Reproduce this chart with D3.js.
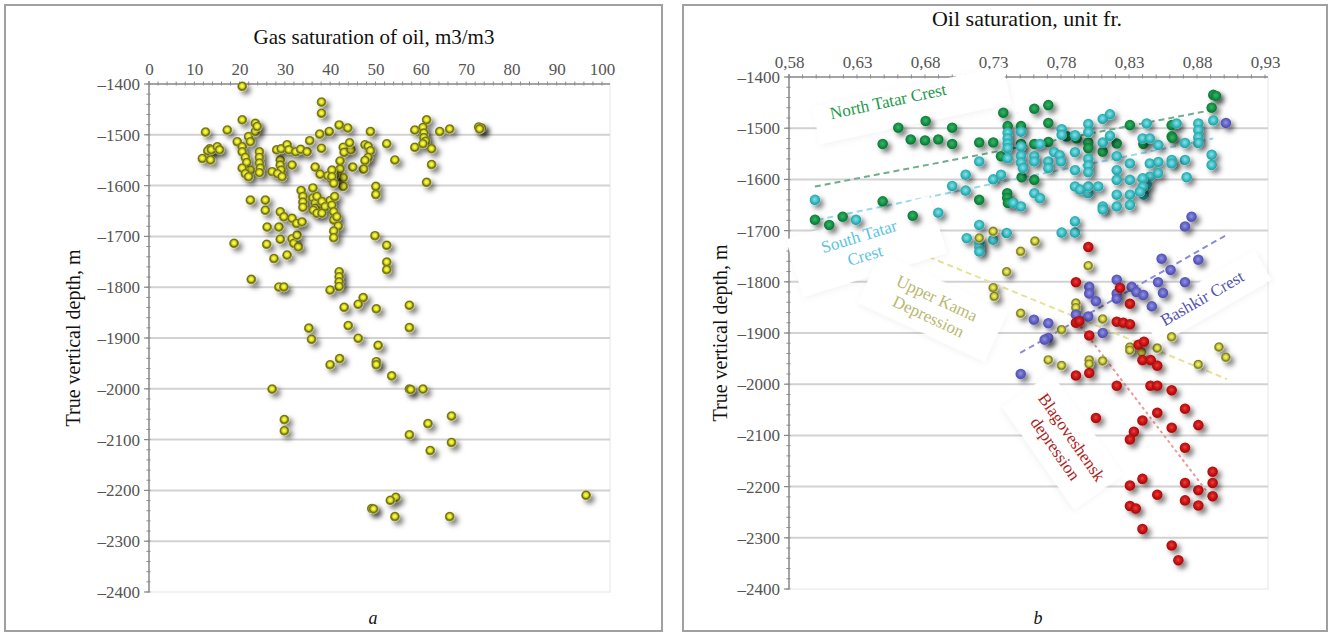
<!DOCTYPE html>
<html>
<head>
<meta charset="utf-8">
<script src="https://cdn.jsdelivr.net/npm/d3@7"></script>
<style>
  body { margin: 0; background: #fff; }
  svg text { font-family: "Liberation Serif", "Times New Roman", serif; }
</style>
</head>
<body>
<svg id="fig" width="1333" height="635"></svg>
<script>
// ---------- tick values ----------
const gasTicks = d3.range(0, 101, 10);
const gasMinorTicks = d3.range(0, 101, 2);
const depthTicks = d3.range(-1400, -2401, -100);
const depthMinorTicks = d3.range(-1400, -2401, -20);
const oilTicks = [0.58, 0.63, 0.68, 0.73, 0.78, 0.83, 0.88, 0.93];
const oilMinorTicks = d3.range(58, 94, 1).map(v => v / 100);

// ---------- panel a: gas saturation (m3/m3) vs depth (m) ----------
const gasSaturation = [
  [20.6,-1405],[20.6,-1471],[12.5,-1495],[17.3,-1491],[13.4,-1528],[13.0,-1532],[13.8,-1530],[15.1,-1524],
  [15.6,-1530],[11.8,-1547],[13.6,-1550],[19.5,-1514],[20.6,-1524],[22,-1504],[22.4,-1514],[23.5,-1478],
  [23.5,-1494],[23.9,-1484],[20.6,-1534],[21.3,-1545],[21.6,-1555],[22.4,-1570],[20.6,-1566],[21.3,-1577],
  [22,-1583],[24.4,-1534],[24.4,-1545],[24.4,-1556],[24.6,-1566],[24.4,-1575],[22.4,-1629],[25.7,-1629],
  [25.7,-1649],[26.1,-1682],[26,-1716],[28.7,-1682],[27.6,-1744],[30.5,-1737],[29,-1706],[31.6,-1705],
  [32,-1714],[33,-1721],[32.7,-1698],[18.8,-1714],[22.6,-1785],[28.7,-1800],[29.8,-1800],[29,-1652],
  [29.8,-1662],[31.6,-1665],[32.6,-1675],[33.8,-1672],[27.2,-1573],[29,-1550],[29,-1560],[29.2,-1570],
  [28.4,-1577],[29.4,-1583],[28.2,-1530],[29.2,-1528],[30.5,-1520],[30.9,-1530],[31.6,-1560],[32.4,-1534],
  [33.5,-1529],[34.9,-1534],[33.6,-1610],[34,-1622],[34,-1633],[34,-1643],
  [38.1,-1436],[38.1,-1458],[42,-1481],[43.9,-1487],[39.8,-1494],[37.7,-1499],[48.9,-1494],[35.5,-1512],
  [38.1,-1527],[42.9,-1525],[43.1,-1535],[44.6,-1530],[44.3,-1516],[47.7,-1520],[48.4,-1523],[48.9,-1532],
  [48.4,-1545],[47.7,-1551],[47.4,-1568],[52.5,-1518],[54.3,-1550],[45,-1564],[42.2,-1552],[42.2,-1568],
  [42.9,-1585],[42.9,-1602],[36.7,-1564],[37.8,-1578],[39.5,-1581],[40.3,-1587],[41,-1580],[50.1,-1602],
  [50.1,-1618],[61.3,-1471],[58.7,-1491],[60.5,-1486],[60.7,-1497],[60.7,-1506],[61.1,-1513],[64.2,-1494],
  [66.4,-1489],[58.7,-1525],[60.5,-1518],[62.4,-1528],[62.4,-1559],[61.3,-1594],[72.8,-1485],[73.4,-1487],
  [73.0,-1489],[36.2,-1605],[36.2,-1625],[36.7,-1635],[36.7,-1645],[37.1,-1622],[38.2,-1632],[38.9,-1642],
  [36.3,-1649],[37.1,-1655],[38.2,-1655],[40,-1630],[40.4,-1570],[40.4,-1583],[40.8,-1596],[41,-1622],
  [40.4,-1639],[40.8,-1652],[40.8,-1668],[41.5,-1662],[41.8,-1680],[40.8,-1690],[40.8,-1703],[49.9,-1699],
  [52.5,-1718],[52.5,-1751],[52.5,-1766],[42,-1770],[42,-1780],[42,-1790],[42,-1799],[40,-1806],[47.3,-1821],
  [43.1,-1840],[46.2,-1834],[50.2,-1843],[57.5,-1836],[57.5,-1880],[35.3,-1881],[35.9,-1903],[44,-1876],
  [46.2,-1901],[50.6,-1915],[42.1,-1941],[40,-1953],[50.2,-1947],[50.2,-1953],[53.6,-1975],[57.5,-2001],
  [57.8,-2002],[60.5,-2001],[27.2,-2001],[29.9,-2061],[29.9,-2083],[66.8,-2054],[61.6,-2069],[57.5,-2091],
  [66.8,-2106],[62.1,-2122],[96.5,-2210],[54.5,-2214],[53.3,-2220],[49.2,-2236],[49.6,-2237],[54.3,-2252],
  [66.4,-2252]
];

// ---------- panel b: oil saturation (unit fr.) vs depth (m), by tectonic element ----------
const northTatar = [
  [0.6604,-1499],[0.6489,-1531],[0.6695,-1522],[0.6805,-1486],[0.680,-1524],[0.6898,-1522],[0.700,-1499],
  [0.700,-1531],[0.7199,-1528],[0.7302,-1528],[0.7376,-1470],[0.7408,-1496],[0.7506,-1496],[0.7359,-1555],
  [0.7604,-1462],[0.7707,-1455],[0.7707,-1490],[0.7506,-1531],[0.7604,-1531],[0.7707,-1527],[0.7511,-1596],
  [0.7604,-1601],[0.7842,-1516],[0.7915,-1520],[0.8001,-1528],[0.8001,-1539],[0.8107,-1546],[0.8210,-1530],
  [0.8307,-1494],[0.7199,-1640],[0.7405,-1627],[0.7405,-1636],[0.7410,-1646],[0.6489,-1643],[0.5991,-1679],
  [0.6096,-1689],[0.6195,-1673],[0.671,-1671],[0.892,-1435],[0.894,-1437],[0.8908,-1460],[0.8614,-1494],
  [0.8614,-1516],[0.8620,-1519],[0.8406,-1531]
];
const southTatar = [
  [0.5991,-1640],[0.6293,-1679],[0.6898,-1665],[0.700,-1613],[0.7099,-1591],[0.7099,-1622],[0.7199,-1565],
  [0.7302,-1600],[0.7359,-1591],[0.7199,-1689],[0.7408,-1509],[0.7408,-1520],[0.7408,-1530],[0.7408,-1539],
  [0.7408,-1559],[0.745,-1646],[0.7506,-1507],[0.7506,-1536],[0.7506,-1554],[0.7506,-1567],[0.752,-1578],
  [0.7506,-1653],[0.7604,-1555],[0.7604,-1565],[0.7604,-1627],[0.7646,-1637],[0.7707,-1565],[0.7707,-1578],
  [0.7646,-1531],[0.7750,-1547],[0.7790,-1553],[0.7800,-1565],[0.7805,-1502],[0.7805,-1513],[0.7903,-1514],
  [0.7903,-1547],[0.7903,-1582],[0.7903,-1614],[0.7940,-1620],[0.8001,-1627],[0.8001,-1614],[0.8001,-1492],
  [0.8001,-1508],[0.8001,-1560],[0.8001,-1573],[0.8001,-1586],[0.8074,-1614],[0.8107,-1482],[0.8160,-1473],
  [0.8107,-1528],[0.8160,-1515],[0.8107,-1653],[0.8107,-1659],[0.8210,-1555],[0.8210,-1582],[0.8210,-1601],
  [0.8210,-1630],[0.8210,-1653],[0.8307,-1569],[0.8307,-1601],[0.8307,-1630],[0.8307,-1650],[0.8400,-1520],
  [0.8410,-1630],[0.8430,-1611],[0.8430,-1491],[0.8453,-1520],[0.8453,-1569],[0.8453,-1595],[0.881,-1491],
  [0.881,-1504],[0.881,-1518],[0.881,-1529],[0.8712,-1529],[0.865,-1491],[0.892,-1485],[0.8908,-1552],
  [0.8908,-1572],[0.8712,-1562],[0.8516,-1533],[0.8516,-1566],[0.8614,-1562],[0.8614,-1569],[0.8724,-1596],
  [0.8514,-1588],[0.840,-1598],[0.840,-1615],[0.838,-1624],[0.7107,-1715],[0.7200,-1723],[0.7200,-1732],
  [0.7200,-1741],[0.7302,-1718],[0.7401,-1705],[0.7805,-1704],[0.7903,-1704],[0.7903,-1682]
];
const upperKama = [
  [0.7302,-1702],[0.72,-1715],[0.7609,-1721],[0.7504,-1741],[0.7401,-1781],[0.8001,-1769],[0.7302,-1812],
  [0.7310,-1829],[0.7504,-1862],[0.791,-1842],[0.791,-1851],[0.7805,-1894],[0.8107,-1873],[0.8307,-1928],
  [0.8307,-1934],[0.8394,-1938],[0.8508,-1930],[0.8614,-1908],[0.7707,-1953],[0.7805,-1964],[0.8008,-1953],
  [0.8008,-1961],[0.8107,-1955],[0.881,-1962],[0.8962,-1928],[0.9013,-1948]
];
const bashkir = [
  [0.9013,-1490],[0.876,-1673],[0.8712,-1692],[0.881,-1757],[0.854,-1755],[0.8606,-1777],[0.8712,-1801],
  [0.8008,-1810],[0.8008,-1823],[0.821,-1796],[0.832,-1810],[0.8514,-1801],[0.8057,-1838],[0.8355,-1820],
  [0.8406,-1826],[0.8468,-1848],[0.855,-1822],[0.821,-1823],[0.821,-1833],[0.791,-1864],[0.8001,-1868],
  [0.7601,-1874],[0.7707,-1881],[0.8107,-1900],[0.7707,-1910],[0.768,-1913],[0.7504,-1980]
];
const blagoveshensk = [
  [0.8001,-1732],[0.791,-1801],[0.8234,-1812],[0.8307,-1843],[0.791,-1880],[0.7935,-1877],[0.821,-1878],
  [0.8258,-1880],[0.8307,-1883],[0.8008,-1905],[0.837,-1923],[0.841,-1917],[0.8399,-1953],[0.846,-1953],
  [0.8508,-1964],[0.791,-1983],[0.8008,-1978],[0.821,-2003],[0.8458,-2003],[0.8508,-2003],[0.8614,-2012],
  [0.8712,-2048],[0.8508,-2056],[0.8399,-2071],[0.8057,-2066],[0.881,-2080],[0.8614,-2085],[0.8336,-2093],
  [0.8307,-2108],[0.8712,-2124],[0.8915,-2171],[0.8915,-2193],[0.8915,-2219],[0.881,-2207],[0.8712,-2193],
  [0.8399,-2185],[0.8307,-2198],[0.8508,-2216],[0.8712,-2227],[0.881,-2237],[0.8307,-2238],[0.835,-2243],
  [0.8399,-2283],[0.8614,-2315],[0.8663,-2344]
];

// trend lines per tectonic element (start and end point)
const northTatarTrend = [[0.599,-1614],[0.892,-1464]];
const southTatarTrend = [[0.601,-1679],[0.892,-1520]];
const upperKamaTrend = [[0.676,-1744],[0.902,-1990]];
const bashkirTrend = [[0.750,-1939],[0.902,-1708]];
const blagoveshenskTrend = [[0.7915,-1877],[0.888,-2212]];

// ---------- drawing ----------
const svg = d3.select("#fig");
const defs = svg.append("defs");

// soft drop shadow under every marker
const sh = defs.append("filter").attr("id", "ptShadow")
  .attr("x", "-100%").attr("y", "-100%").attr("width", "350%").attr("height", "350%");
sh.append("feDropShadow").attr("dx", 3.5).attr("dy", 3.5).attr("stdDeviation", 2.8)
  .attr("flood-color", "#000").attr("flood-opacity", 0.5);

const boxSh = defs.append("filter").attr("id", "boxShadow")
  .attr("x", "-20%").attr("y", "-40%").attr("width", "140%").attr("height", "180%");
boxSh.append("feDropShadow").attr("dx", 1).attr("dy", 2).attr("stdDeviation", 3)
  .attr("flood-color", "#000").attr("flood-opacity", 0.05);

function radial(id, stops) {
  const g = defs.append("radialGradient").attr("id", id)
    .attr("cx", "48%").attr("cy", "45%").attr("r", "55%");
  stops.forEach(([o, c]) => g.append("stop").attr("offset", o).attr("stop-color", c));
}
radial("gYellow", [["0%", "#ffff70"], ["28%", "#eeee28"], ["48%", "#c4c41a"], ["66%", "#6c6c10"], ["84%", "#8c8c34"], ["100%", "#d4d49a"]]);
radial("gKhaki", [["0%", "#f6f680"], ["28%", "#e0e04a"], ["50%", "#bcbc3a"], ["68%", "#7a7a24"], ["86%", "#a4a458"], ["100%", "#d6d6a4"]]);
radial("gGreen", [["0%", "#34b86a"], ["45%", "#1c9a4e"], ["85%", "#0f7636"], ["100%", "#2a9456"]]);
radial("gCyan", [["0%", "#8fe0e2"], ["35%", "#55cdd2"], ["70%", "#2cb0b6"], ["90%", "#2ca2a8"], ["100%", "#74cacc"]]);
radial("gBlue", [["0%", "#9494e4"], ["45%", "#6a6acc"], ["85%", "#5050b2"], ["100%", "#7070c4"]]);
radial("gRed", [["0%", "#ee4040"], ["45%", "#d01818"], ["85%", "#a80c0c"], ["100%", "#c42626"]]);

const dash = d => "\u2013" + Math.abs(d);
const comma = d => d3.format(".2f")(d).replace(".", ",");

// outer frames
svg.append("rect").attr("x", 5).attr("y", 5).attr("width", 657).attr("height", 626)
  .attr("fill", "none").attr("stroke", "#a0a0a0").attr("stroke-width", 2);
svg.append("rect").attr("x", 683).attr("y", 5).attr("width", 644).attr("height", 626)
  .attr("fill", "none").attr("stroke", "#a0a0a0").attr("stroke-width", 2);

function panel(opt) {
  const g = svg.append("g");
  const { x, y, xRight, xTicks, xMinor, xFmt } = opt;
  const [yTop, yBot] = y.range();
  const xLeft = x.range()[0];

  // plot-area frame (very faint)
  g.append("rect").attr("x", xLeft).attr("y", yTop).attr("width", xRight - xLeft).attr("height", yBot - yTop)
    .attr("fill", "none").attr("stroke", "#eeeeee").attr("stroke-width", 1.5);

  // horizontal grid
  g.append("g").selectAll("line").data(depthTicks.slice(1, -1)).join("line")
    .attr("x1", xLeft).attr("x2", xRight)
    .attr("y1", d => y(d)).attr("y2", d => y(d))
    .attr("stroke", "#d2d2d2").attr("stroke-width", 2);

  // top axis: labels, then minor ticks crossing the line
  const topLab = g.append("g").attr("transform", `translate(0,${yTop})`)
    .call(d3.axisTop(x).tickValues(xTicks).tickSize(0).tickPadding(9).tickFormat(xFmt));
  topLab.select(".domain").remove();
  topLab.attr("font-family", null).attr("font-size", null);
  topLab.selectAll("text").attr("fill", "#555").style("font-size", "17px");

  g.append("line").attr("x1", xLeft).attr("x2", xRight).attr("y1", yTop).attr("y2", yTop)
    .attr("stroke", "#8a8a8a").attr("stroke-width", 1.5);
  g.append("g").selectAll("line").data(xMinor).join("line")
    .attr("x1", d => x(d)).attr("x2", d => x(d)).attr("y1", yTop - 2.5).attr("y2", yTop + 1.5)
    .attr("stroke", "#8a8a8a").attr("stroke-width", 1);

  // left axis
  const leftLab = g.append("g").attr("transform", `translate(${xLeft},0)`)
    .call(d3.axisLeft(y).tickValues(depthTicks).tickSize(0).tickPadding(9).tickFormat(dash));
  leftLab.select(".domain").remove();
  leftLab.attr("font-family", null).attr("font-size", null);
  leftLab.selectAll("text").attr("fill", "#555").style("font-size", "17px");
  g.append("line").attr("x1", xLeft).attr("x2", xLeft).attr("y1", yTop - 3).attr("y2", yBot)
    .attr("stroke", "#8a8a8a").attr("stroke-width", 1.5);
  g.append("g").selectAll("line").data(depthMinorTicks).join("line")
    .attr("x1", xLeft - 2.5).attr("x2", xLeft + 1.5).attr("y1", d => y(d)).attr("y2", d => y(d))
    .attr("stroke", "#8a8a8a").attr("stroke-width", 1);
  g.append("g").selectAll("line").data(depthTicks).join("line")
    .attr("x1", xLeft - 5).attr("x2", xLeft).attr("y1", d => y(d)).attr("y2", d => y(d))
    .attr("stroke", "#8a8a8a").attr("stroke-width", 1.2);

  // titles
  svg.append("text").attr("x", opt.titleX).attr("y", opt.titleY).attr("text-anchor", "middle")
    .style("font-size", opt.titleSize).attr("fill", "#111").text(opt.title);
  svg.append("text").attr("transform", `translate(${opt.yTitleX},${opt.yTitleY}) rotate(-90)`)
    .attr("text-anchor", "middle").style("font-size", "20px").attr("fill", "#111")
    .text("True vertical depth, m");
  svg.append("text").attr("x", opt.tagX).attr("y", 624).attr("text-anchor", "middle")
    .style("font-size", "18px").style("font-style", "italic").attr("fill", "#111").text(opt.tag);
  return g;
}

function points(g, data, x, y, fill, r) {
  g.append("g").selectAll("circle").data(data).join("circle")
    .attr("cx", d => x(d[0])).attr("cy", d => y(d[1])).attr("r", r)
    .attr("fill", `url(#${fill})`).attr("filter", "url(#ptShadow)");
}

// ---- panel a ----
const xA = d3.scaleLinear().domain([0, 100]).range([149, 602]);
const yA = d3.scaleLinear().domain([-1400, -2400]).range([84, 592]);
const gA = panel({
  x: xA, y: yA, xRight: 610, xTicks: gasTicks, xMinor: gasMinorTicks, xFmt: d3.format("d"),
  title: "Gas saturation of oil, m3/m3", titleX: 374, titleY: 44, titleSize: "21px",
  yTitleX: 80, yTitleY: 338, tagX: 373, tag: "a"
});
points(gA, gasSaturation, xA, yA, "gYellow", 5);

// ---- panel b ----
const xB = d3.scaleLinear().domain([0.58, 0.93]).range([789, 1265]);
const yB = d3.scaleLinear().domain([-1400, -2400]).range([77, 589]);
const gB = panel({
  x: xB, y: yB, xRight: 1268, xTicks: oilTicks, xMinor: oilMinorTicks, xFmt: comma,
  title: "Oil saturation, unit fr.", titleX: 1027, titleY: 26, titleSize: "22px",
  yTitleX: 727, yTitleY: 333, tagX: 1038, tag: "b"
});

const trend = d3.line().x(d => xB(d[0])).y(d => yB(d[1]));
const trends = [
  [northTatarTrend, "#6fae8c", "6,4"],
  [southTatarTrend, "#9ad8ee", "6,4"],
  [upperKamaTrend, "#e6e296", "6,4"],
  [bashkirTrend, "#8c8cdc", "6,4"],
  [blagoveshenskTrend, "#eb9a9a", "3,3"]
];
gB.append("g").selectAll("path").data(trends).join("path")
  .attr("d", d => trend(d[0])).attr("fill", "none")
  .attr("stroke", d => d[1]).attr("stroke-width", 2).attr("stroke-dasharray", d => d[2]);

// white label plates with region names
const labels = [
  { lines: ["North Tatar Crest"], color: "#1f9a4c", cx: 888, cy: 101, angle: -12, box: [22, 9, 195, 38] },
  { lines: ["South Tatar", "Crest"], color: "#5cc4e2", cx: 859, cy: 236, angle: -17, box: [4, 12, 150, 60] },
  { lines: ["Upper Kama", "Depression"], color: "#b9b870", cx: 937, cy: 298, angle: 25, box: [0, 10, 140, 55] },
  { lines: ["Bashkir Crest"], color: "#5454b4", cx: 1202, cy: 298, angle: -30, box: [4, 2, 130, 34] },
  { lines: ["Blagoveshensk", "depression"], color: "#ad1f1f", cx: 1072, cy: 437, angle: 55, box: [-2, 10, 125, 60] }
];
const plates = gB.append("g").selectAll("g").data(labels).join("g")
  .attr("transform", d => `translate(${d.cx},${d.cy}) rotate(${d.angle})`);
plates.append("rect")
  .attr("x", d => d.box[0] - d.box[2] / 2).attr("y", d => d.box[1] - d.box[3] / 2)
  .attr("width", d => d.box[2]).attr("height", d => d.box[3])
  .attr("fill", "#fff").attr("filter", "url(#boxShadow)");

points(gB, northTatar, xB, yB, "gGreen", 5.3);
points(gB, southTatar, xB, yB, "gCyan", 5.3);
points(gB, upperKama, xB, yB, "gKhaki", 5);
points(gB, bashkir, xB, yB, "gBlue", 5.3);
points(gB, blagoveshensk, xB, yB, "gRed", 5.3);

const labelText = gB.append("g").selectAll("g").data(labels).join("g")
  .attr("transform", d => `translate(${d.cx},${d.cy}) rotate(${d.angle})`);
labelText.each(function (d) {
  d3.select(this).selectAll("text").data(d.lines).join("text")
    .attr("x", 0).attr("y", (t, i) => i * 20 + 6)
    .attr("text-anchor", "middle").style("font-size", "17px").attr("fill", d.color)
    .text(t => t);
});
</script>
</body>
</html>
